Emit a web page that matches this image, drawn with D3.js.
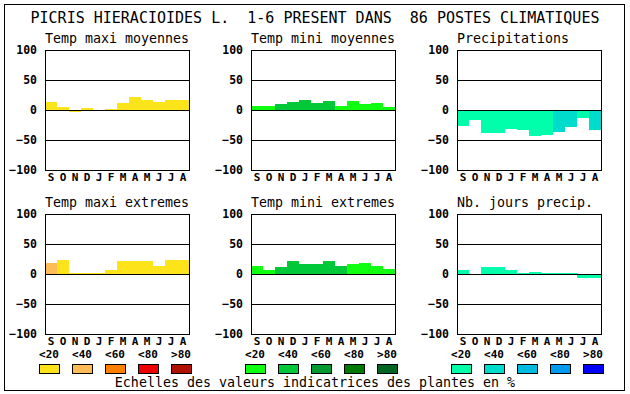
<!DOCTYPE html>
<html>
<head>
<meta charset="utf-8">
<script src="https://cdn.jsdelivr.net/npm/d3@7"></script>
<style>
  body { margin: 0; background: #fff; }
  text { font-family: "DejaVu Sans Mono", monospace; fill: #000; }
</style>
</head>
<body>
<svg width="630" height="394"></svg>
<script>
// Chart texts
var title = "PICRIS HIERACIOIDES L.  1-6 PRESENT DANS  86 POSTES CLIMATIQUES";
var footer = "Echelles des valeurs indicatrices des plantes en %";
var months = ["S", "O", "N", "D", "J", "F", "M", "A", "M", "J", "J", "A"];
var yTicks = [100, 50, 0, -50, -100];
var legendLabels = ["<20", "<40", "<60", "<80", ">80"];

// Panel values (one per month, Sept -> Aug) and their class (0 = <20 ... 4 = >80)
var maxiMoyennes = [14, 5, -3, 4, 0, 2, 11, 22, 16, 14, 16, 16];
var maxiMoyennesLevel = [0, 0, 0, 0, 0, 0, 0, 0, 0, 0, 0, 0];
var miniMoyennes = [7, 7, 10, 13, 17, 12, 15, 7, 15, 10, 12, 5];
var miniMoyennesLevel = [0, 0, 1, 1, 1, 1, 1, 0, 0, 0, 0, 0];
var precipitations = [-27, -17, -38, -38, -32, -33, -43, -41, -36, -28, -14, -33];
var precipitationsLevel = [0, 0, 0, 0, 0, 0, 0, 0, 1, 1, 0, 1];
var maxiExtremes = [18, 23, 2, 2, 2, 6, 21, 21, 21, 14, 23, 24];
var maxiExtremesLevel = [1, 0, 0, 0, 0, 0, 0, 0, 0, 0, 0, 0];
var miniExtremes = [14, 6, 11, 21, 16, 16, 21, 14, 16, 18, 14, 8];
var miniExtremesLevel = [0, 0, 1, 1, 1, 1, 1, 1, 0, 0, 0, 0];
var joursPrecip = [6, 0, 11, 11, 6, 2, 4, 2, 2, 2, -6, -7];
var joursPrecipLevel = [0, 0, 0, 0, 0, 0, 0, 0, 0, 0, 0, 0];

// Colour scales for the three columns
var warmColors = ["#fce31a", "#ffbb55", "#ff8000", "#ee0000", "#b01000"];
var greenColors = ["#10ff10", "#00c838", "#009a30", "#007a00", "#006622"];
var blueColors = ["#00ffaa", "#00dccc", "#00bbe0", "#0099ee", "#0000fa"];

var panels = [
  { name: "Temp maxi moyennes", values: maxiMoyennes, levels: maxiMoyennesLevel, colors: warmColors, col: 0, row: 0 },
  { name: "Temp mini moyennes", values: miniMoyennes, levels: miniMoyennesLevel, colors: greenColors, col: 1, row: 0 },
  { name: "Precipitations", values: precipitations, levels: precipitationsLevel, colors: blueColors, col: 2, row: 0 },
  { name: "Temp maxi extremes", values: maxiExtremes, levels: maxiExtremesLevel, colors: warmColors, col: 0, row: 1 },
  { name: "Temp mini extremes", values: miniExtremes, levels: miniExtremesLevel, colors: greenColors, col: 1, row: 1 },
  { name: "Nb. jours precip.", values: joursPrecip, levels: joursPrecipLevel, colors: blueColors, col: 2, row: 1 }
];

var svg = d3.select("svg"),
  plotW = 144,
  plotH = 120,
  left0 = 45,
  top0 = 50,
  colStep = 206,
  rowStep = 164;

// Outer frame
svg.append("rect")
  .attr("x", 4.5).attr("y", 4.5)
  .attr("width", 620).attr("height", 386)
  .attr("fill", "none").attr("stroke", "#000");

svg.append("text")
  .attr("x", 315).attr("y", 23)
  .attr("text-anchor", "middle")
  .style("font-size", "15px")
  .style("white-space", "pre")
  .text(title);

var xScale = d3.scaleBand().domain(d3.range(12)).range([0, plotW]);
var yScale = d3.scaleLinear().domain([-100, 100]).range([plotH, 0]);

panels.forEach(function (p) {
  var g = svg.append("g")
    .attr("transform", "translate(" + (left0 + p.col * colStep) + "," + (top0 + p.row * rowStep) + ")");

  var color = d3.scaleOrdinal().domain(d3.range(5)).range(p.colors);

  g.append("text")
    .attr("x", 0).attr("y", -7.5)
    .style("font-size", "13.3px")
    .text(p.name);

  // bars
  g.selectAll(".bar")
    .data(p.values)
    .enter()
    .append("rect")
    .attr("class", "bar")
    .attr("x", (d, i) => xScale(i))
    .attr("y", (d) => Math.min(yScale(d), yScale(0)))
    .attr("width", xScale.bandwidth())
    .attr("height", (d) => Math.abs(yScale(d) - yScale(0)))
    .attr("fill", (d, i) => color(p.levels[i]))
    .attr("shape-rendering", "crispEdges");

  // y axis with gridlines
  var yAxis = g.append("g")
    .call(d3.axisLeft(yScale).tickValues(yTicks).tickSize(-plotW).tickPadding(8));
  yAxis.select(".domain").remove();
  yAxis.selectAll("line").attr("stroke", "#000").attr("shape-rendering", "crispEdges");
  yAxis.selectAll("text")
    .style("font-family", "'DejaVu Sans Mono', monospace")
    .style("font-size", "11.5px")
    .style("font-weight", "bold");

  // month axis
  var xAxis = g.append("g")
    .attr("transform", "translate(0," + plotH + ")")
    .call(d3.axisBottom(xScale).tickSize(0).tickPadding(3).tickFormat((i) => months[i]));
  xAxis.select(".domain").remove();
  xAxis.selectAll("text")
    .style("font-family", "'DejaVu Sans Mono', monospace")
    .style("font-size", "11px")
    .style("font-weight", "bold");

  // frame of the plot
  g.append("rect")
    .attr("x", 0.5).attr("y", 0.5)
    .attr("width", plotW).attr("height", plotH)
    .attr("fill", "none").attr("stroke", "#000");

  // colour legend below the bottom row
  if (p.row === 1) {
    var lx = d3.scalePoint().domain(legendLabels).range([4, 136]);
    var leg = g.append("g").attr("transform", "translate(0," + (plotH + 16) + ")");
    leg.selectAll("text")
      .data(legendLabels)
      .enter()
      .append("text")
      .attr("x", (d) => lx(d))
      .attr("y", 8)
      .attr("text-anchor", "middle")
      .style("font-size", "11px")
      .style("font-weight", "bold")
      .text((d) => d);
    leg.selectAll("rect")
      .data(legendLabels)
      .enter()
      .append("rect")
      .attr("x", (d) => lx(d) - 10 + 0.5)
      .attr("y", 14.5)
      .attr("width", 20)
      .attr("height", 9)
      .attr("fill", (d, i) => color(i))
      .attr("stroke", "#000");
  }
});

svg.append("text")
  .attr("x", 315).attr("y", 386.5)
  .attr("text-anchor", "middle")
  .style("font-size", "13.3px")
  .text(footer);
</script>
</body>
</html>
